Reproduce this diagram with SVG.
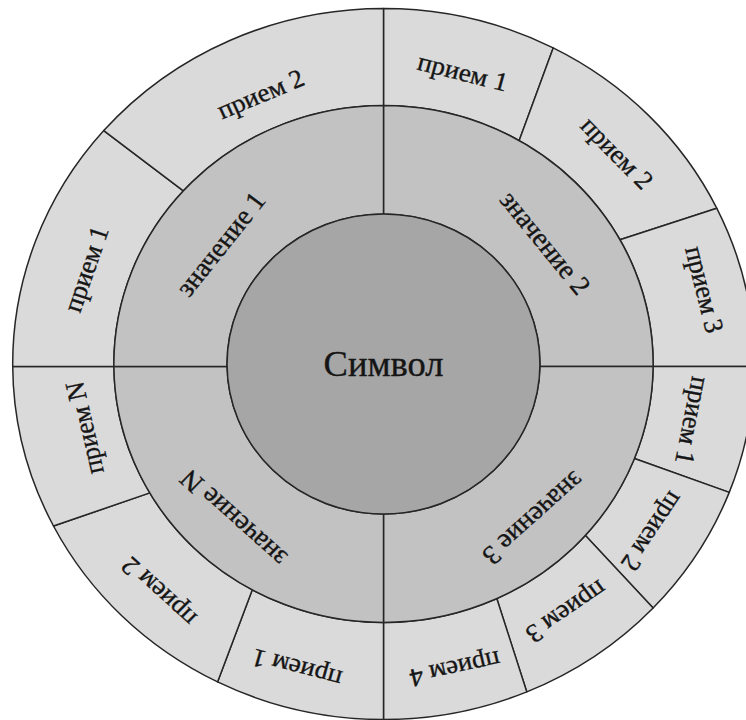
<svg xmlns="http://www.w3.org/2000/svg" width="746" height="720" viewBox="0 0 746 720">
<style>
.seg{stroke:#262626;stroke-width:1.5;vector-effect:non-scaling-stroke;stroke-linejoin:round}
.o{fill:#dadada}
.m{fill:#c2c2c2}
.c{fill:#a6a6a6}
text{font-family:"Liberation Serif","Times New Roman",serif;fill:#151515;stroke:#151515;stroke-width:0.35;text-anchor:middle}
.tp{font-size:26px}
.tz{font-size:27px}
.ts{font-size:35px}
</style>
<rect width="746" height="720" fill="#ffffff"/>
<g transform="translate(383.5,364) scale(1.043,1)">
<g id="outer-ring">
<g id="v2-p1"><path class="seg o" d="M0,-258.5 L0,-355.5 A355.5,355.5 0 0 1 162.7,-316.1 L130.1,-223.4 A258.5,258.5 0 0 0 0,-258.5Z"/><text class="tp" transform="rotate(14.6)" y="-293">прием 1</text></g>
<g id="v2-p2"><path class="seg o" d="M130.1,-223.4 L162.7,-316.1 A355.5,355.5 0 0 1 319.6,-155.7 L226.7,-124.3 A258.5,258.5 0 0 0 130.1,-223.4Z"/><text class="tp" transform="rotate(46.7)" y="-299">прием 2</text></g>
<g id="v2-p3"><path class="seg o" d="M226.7,-124.3 L319.6,-155.7 A355.5,355.5 0 0 1 355.5,2.5 L258.5,2.5 A258.5,258.5 0 0 0 226.7,-124.3Z"/><text class="tp" transform="rotate(76.4)" y="-308">прием 3</text></g>
<g id="v3-p1"><path class="seg o" d="M258.5,2.5 L355.5,2.5 A355.5,355.5 0 0 1 331.5,128.4 L240.6,94.5 A258.5,258.5 0 0 0 258.5,2.5Z"/><text class="tp" transform="rotate(100.8)" y="-293">прием 1</text></g>
<g id="v3-p2"><path class="seg o" d="M240.6,94.5 L331.5,128.4 A355.5,355.5 0 0 1 258.5,244 L193.6,171.4 A258.5,258.5 0 0 0 240.6,94.5Z"/><text class="tp" transform="rotate(123)" y="-299">прием 2</text></g>
<g id="v3-p3"><path class="seg o" d="M193.6,171.4 L258.5,244 A355.5,355.5 0 0 1 137.4,327.9 L108.6,234.5 A258.5,258.5 0 0 0 193.6,171.4Z"/><text class="tp" transform="rotate(144.7)" y="-295">прием 3</text></g>
<g id="v3-p4"><path class="seg o" d="M108.6,234.5 L137.4,327.9 A355.5,355.5 0 0 1 0,355.5 L0,258.5 A258.5,258.5 0 0 0 108.6,234.5Z"/><text class="tp" transform="rotate(167.3)" y="-304">прием 4</text></g>
<g id="vN-p1"><path class="seg o" d="M0,258.5 L0,355.5 A355.5,355.5 0 0 1 -159.1,317.9 L-125.8,225.8 A258.5,258.5 0 0 0 0,258.5Z"/><text class="tp" transform="rotate(195.3)" y="-307">прием 1</text></g>
<g id="vN-p2"><path class="seg o" d="M-125.8,225.8 L-159.1,317.9 A355.5,355.5 0 0 1 -316.4,162 L-224.1,128.9 A258.5,258.5 0 0 0 -125.8,225.8Z"/><text class="tp" transform="rotate(223.4)" y="-305">прием 2</text></g>
<g id="vN-pN"><path class="seg o" d="M-224.1,128.9 L-316.4,162 A355.5,355.5 0 0 1 -355.5,2.5 L-258.5,2.5 A258.5,258.5 0 0 0 -224.1,128.9Z"/><text class="tp" transform="rotate(257.4)" y="-285">прием N</text></g>
<g id="v1-p1"><path class="seg o" d="M-258.5,2.5 L-355.5,2.5 A355.5,355.5 0 0 1 -268.2,-233.4 L-191.9,-173.1 A258.5,258.5 0 0 0 -258.5,2.5Z"/><text class="tp" transform="rotate(288.4)" y="-292">прием 1</text></g>
<g id="v1-p2"><path class="seg o" d="M-191.9,-173.1 L-268.2,-233.4 A355.5,355.5 0 0 1 0,-355.5 L0,-258.5 A258.5,258.5 0 0 0 -191.9,-173.1Z"/><text class="tp" transform="rotate(336.4)" y="-286">прием 2</text></g>
</g>
<g id="middle-ring">
<g id="v2"><path class="seg m" d="M0,-150 L0,-258.5 A258.5,258.5 0 0 1 258.5,2.5 L150,2.5 A150,150 0 0 0 0,-150Z"/><text class="tz" transform="rotate(52)" y="-188">значение 2</text></g>
<g id="v3"><path class="seg m" d="M150,2.5 L258.5,2.5 A258.5,258.5 0 0 1 0,258.5 L0,150 A150,150 0 0 0 150,2.5Z"/><text class="tz" transform="rotate(137)" y="-202">значение 3</text></g>
<g id="vN"><path class="seg m" d="M0,150 L0,258.5 A258.5,258.5 0 0 1 -258.5,2.5 L-150,2.5 A150,150 0 0 0 0,150Z"/><text class="tz" transform="rotate(223)" y="-202">значение N</text></g>
<g id="v1"><path class="seg m" d="M-150,2.5 L-258.5,2.5 A258.5,258.5 0 0 1 0,-258.5 L0,-150 A150,150 0 0 0 -150,2.5Z"/><text class="tz" transform="rotate(307.5)" y="-188">значение 1</text></g>
</g>
<g id="symbol"><circle class="seg c" cx="0" cy="0" r="150"/><text class="ts" x="0" y="12">Символ</text></g>
<g id="connectors"/>
</g>
</svg>
